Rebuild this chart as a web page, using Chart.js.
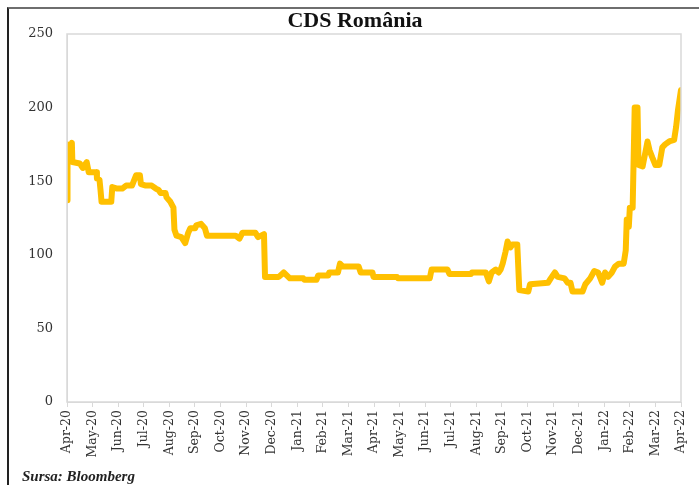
<!DOCTYPE html>
<html>
<head>
<meta charset="utf-8">
<script src="https://cdn.jsdelivr.net/npm/chart.js@4"></script>
<style>
  html, body { margin: 0; padding: 0; background: #fff; }
  #wrap { position: relative; width: 699px; height: 485px; overflow: hidden; }
  #frame { position: absolute; left: 7px; top: 7px; width: 720px; height: 520px;
           border-top: 2px solid #6e6e6e; border-left: 2px solid #222; }
  #source { position: absolute; left: 22px; top: 468px; font: italic bold 15px "Liberation Serif", serif; color: #222; }
  canvas { position: absolute; left: 0; top: 0; }
</style>
</head>
<body>
<div id="wrap">
  <div id="frame"></div>
  <canvas id="chart" width="699" height="485"></canvas>
  <div id="source">Sursa: Bloomberg</div>
</div>
<script>
// ── Data ────────────────────────────────────────────────────────────────────
// x = months since 1 Apr 2020, y = CDS spread (bp)
const monthLabels = ["Apr-20","May-20","Jun-20","Jul-20","Aug-20","Sep-20","Oct-20","Nov-20","Dec-20",
  "Jan-21","Feb-21","Mar-21","Apr-21","May-21","Jun-21","Jul-21","Aug-21","Sep-21","Oct-21","Nov-21",
  "Dec-21","Jan-22","Feb-22","Mar-22","Apr-22"];
const yTicks = [0, 50, 100, 150, 200, 250];

const monthPos = [0, 0.02, 0.12, 0.19, 0.21, 0.50, 0.62, 0.77, 0.85, 1.00, 1.16, 1.17, 1.27, 1.31, 1.35,
  1.73, 1.77, 1.96, 2.16, 2.31, 2.54, 2.70, 2.85, 2.89, 3.08, 3.31, 3.47, 3.58, 3.66, 3.85, 3.89,
  4.04, 4.16, 4.20, 4.28, 4.47, 4.62, 4.74, 4.82, 5.01, 5.05, 5.24, 5.39, 5.47, 6.59, 6.74, 6.86,
  6.97, 7.36, 7.47, 7.70, 7.74, 8.28, 8.47, 8.59, 8.71, 9.24, 9.28, 9.75, 9.82, 10.21, 10.25, 10.59,
  10.67, 10.79, 11.40, 11.48, 11.94, 11.98, 12.90, 12.94, 14.18, 14.25, 14.87, 14.95, 15.79, 15.83,
  16.37, 16.49, 16.60, 16.76, 16.87, 16.95, 17.03, 17.14, 17.22, 17.33, 17.41, 17.60, 17.68, 18.03,
  18.10, 18.80, 18.91, 19.07, 19.18, 19.45, 19.57, 19.68, 19.76, 20.15, 20.26, 20.45, 20.61, 20.76,
  20.92, 21.03, 21.15, 21.30, 21.42, 21.57, 21.76, 21.84, 21.88, 21.96, 22.00, 22.11, 22.19, 22.30,
  22.34, 22.50, 22.69, 22.77, 22.88, 23.00, 23.15, 23.27, 23.38, 23.54, 23.73, 23.81, 23.88, 24.00];
const cdsValues = [137, 175, 172, 176, 163, 162, 159, 163, 156, 156, 156, 152, 151, 144, 136,
  136, 146, 145, 145, 147, 147, 154, 154, 148, 147, 147, 145, 144, 142, 142, 139,
  136, 132, 117, 113, 112, 108, 115, 118, 118, 120, 121, 118, 113, 113, 111, 115,
  115, 115, 112, 114, 85, 85, 88, 86, 84, 84, 83, 83, 86, 86, 88, 88,
  94, 92, 92, 88, 88, 85, 85, 84, 84, 90, 90, 87, 87, 88,
  88, 82, 88, 90, 88, 90, 94, 102, 109, 105, 107, 107, 76, 75,
  80, 81, 84, 88, 85, 84, 81, 81, 75, 75, 80, 84, 89, 88,
  81, 88, 85, 88, 92, 94, 94, 103, 124, 119, 132, 132, 200, 200,
  161, 160, 177, 171, 166, 161, 161, 173, 175, 177, 178, 187, 198, 212];

const LINE_COLOR = "#FFC000";
const AXIS_GREY  = "#d9d9d9";
const TEXT_COLOR = "#333333";

// light grey box around the plot area
const plotBox = {
  id: "plotBox",
  afterDraw(chart) {
    const { ctx, chartArea: a } = chart;
    ctx.save();
    ctx.strokeStyle = AXIS_GREY;
    ctx.lineWidth = 1.5;
    ctx.strokeRect(a.left, a.top, a.right - a.left, a.bottom - a.top);
    ctx.restore();
  },
};

new Chart(document.getElementById("chart"), {
  type: "line",
  data: {
    datasets: [{
      data: monthPos.map((m, i) => ({ x: m, y: cdsValues[i] })),
      borderColor: LINE_COLOR,
      borderWidth: 6,
      borderJoinStyle: "round",
      borderCapStyle: "round",
      pointRadius: 0,
      tension: 0,
      fill: false,
    }],
  },
  options: {
    responsive: false,
    animation: false,
    // left padding only shifts the title centre; y axis width below keeps plot at x=67
    layout: { padding: { left: 20, right: 9, top: 0, bottom: 0 } },
    plugins: {
      legend: { display: false },
      tooltip: { enabled: false },
      title: {
        display: true,
        text: "CDS România",
        color: "#111",
        font: { family: "'Liberation Serif', serif", size: 22, weight: "bold", lineHeight: 1.1 },
        padding: { top: 9, bottom: 0.8 },
      },
    },
    scales: {
      x: {
        type: "linear",
        min: 0, max: monthLabels.length - 1,
        afterFit: (s) => { s.height = 83; },
        afterBuildTicks: (s) => { s.ticks = monthLabels.map((_, i) => ({ value: i })); },
        grid: { display: true, drawOnChartArea: false, drawTicks: true, tickLength: 5, color: AXIS_GREY },
        border: { display: true, color: AXIS_GREY },
        ticks: {
          autoSkip: false, minRotation: 90, maxRotation: 90, padding: 3,
          color: TEXT_COLOR,
          font: { family: "'DejaVu Serif', serif", size: 12.5 },
          callback: (v) => monthLabels[v] ?? "",
        },
      },
      y: {
        min: 0, max: 250,
        afterFit: (s) => { s.width = 47; },
        afterBuildTicks: (s) => { s.ticks = yTicks.map((v) => ({ value: v })); },
        grid: { display: true, drawOnChartArea: false, drawTicks: false, color: AXIS_GREY },
        border: { display: true, color: AXIS_GREY },
        ticks: {
          padding: 14,
          color: TEXT_COLOR,
          font: { family: "'DejaVu Serif', serif", size: 13 },
        },
      },
    },
  },
  plugins: [plotBox],
});
</script>
</body>
</html>
